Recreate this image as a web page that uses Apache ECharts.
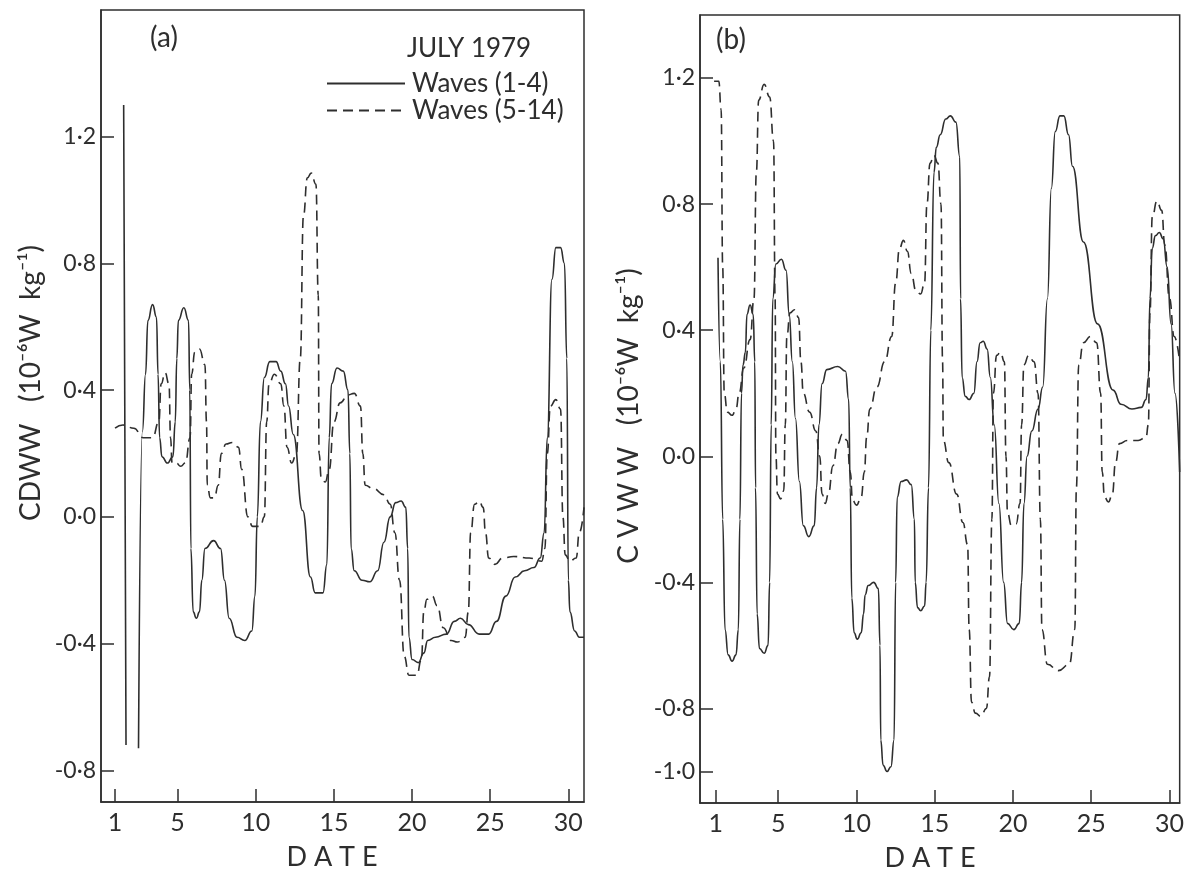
<!DOCTYPE html>
<html>
<head>
<meta charset="utf-8">
<script src="https://cdn.jsdelivr.net/npm/echarts@6/dist/echarts.min.js"></script>
<style>
html,body{margin:0;padding:0;background:#fff;}
#chart{width:1187px;height:871px;}
</style>
</head>
<body>
<div id="chart"></div>
<script>
// ---------- DATA ----------
const xTicks = [1, 5, 10, 15, 20, 25, 30];
const yTicksA = [-0.8, -0.4, 0, 0.4, 0.8, 1.2];
const yLabelsA = ['-0·8', '-0·4', '0·0', '0·4', '0·8', '1·2'];
const yTicksB = [-1.0, -0.8, -0.4, 0, 0.4, 0.8, 1.2];
const yLabelsB = ['-1·0', '-0·8', '-0·4', '0·0', '0·4', '0·8', '1·2'];
const seriesNames = ['Waves (1-4)', 'Waves (5-14)'];

// Panel (a): CDWW, waves 1-4 (solid)  [date, value]
const cdwwWaves1to4 = [
  [1.55,1.30],[1.7,-0.72],[2.1,null],[2.5,-0.73],[2.75,0.27],[2.95,0.45],[3.1,0.62],[3.4,0.67],[3.65,0.63],
  [3.75,0.45],[3.85,0.25],[4.0,0.19],[4.35,0.17],[4.7,0.19],[4.85,0.3],[4.95,0.5],[5.05,0.62],[5.4,0.66],
  [5.7,0.62],[5.78,0.4],[5.85,-0.1],[6.0,-0.3],[6.2,-0.32],[6.4,-0.3],[6.55,-0.2],[6.75,-0.1],[7.3,-0.075],
  [7.75,-0.1],[8.0,-0.2],[8.3,-0.32],[8.8,-0.38],[9.3,-0.39],[9.75,-0.36],[9.95,-0.25],[10.1,0.0],[10.3,0.3],
  [10.55,0.44],[10.9,0.49],[11.3,0.49],[11.6,0.46],[11.9,0.42],[12.1,0.35],[12.4,0.26],[13.0,0.02],[13.5,-0.19],
  [13.8,-0.24],[14.3,-0.24],[14.55,-0.15],[14.7,0.25],[14.85,0.42],[15.2,0.47],[15.6,0.46],[15.9,0.4],[16.02,0.2],
  [16.1,-0.1],[16.3,-0.17],[16.8,-0.2],[17.3,-0.205],[17.8,-0.17],[18.2,-0.08],[18.6,0.0],[18.95,0.045],[19.3,0.05],
  [19.6,0.03],[19.72,-0.1],[19.8,-0.38],[20.0,-0.45],[20.4,-0.46],[20.75,-0.43],[21.0,-0.39],[21.5,-0.38],[22.2,-0.37],
  [22.7,-0.33],[23.1,-0.32],[23.6,-0.34],[24.3,-0.37],[24.9,-0.37],[25.4,-0.33],[26.0,-0.25],[26.6,-0.19],[27.2,-0.17],
  [27.8,-0.16],[28.2,-0.13],[28.45,-0.05],[28.65,0.25],[28.95,0.75],[29.2,0.85],[29.5,0.85],[29.75,0.8],[29.9,0.5],
  [30.0,-0.2],[30.1,-0.3],[30.4,-0.36],[30.7,-0.38],[31.0,-0.38]
];
// Panel (a): CDWW, waves 5-14 (dashed)
const cdwwWaves5to14 = [
  [1.0,0.28],[1.5,0.29],[2.2,0.28],[2.8,0.25],[3.4,0.25],[3.8,0.3],[3.95,0.42],[4.2,0.455],[4.45,0.42],[4.55,0.25],
  [4.65,0.17],[4.9,0.17],[5.2,0.16],[5.5,0.17],[5.8,0.25],[5.9,0.45],[6.1,0.52],[6.4,0.53],[6.75,0.48],[6.85,0.3],
  [6.9,0.1],[7.1,0.06],[7.35,0.06],[7.6,0.1],[7.8,0.2],[8.1,0.23],[8.5,0.235],[8.9,0.22],[9.1,0.15],[9.5,0.0],
  [9.8,-0.03],[10.3,-0.03],[10.55,0.0],[10.7,0.3],[10.85,0.42],[11.2,0.45],[11.6,0.42],[11.8,0.35],[12.0,0.22],
  [12.3,0.17],[12.6,0.2],[12.85,0.5],[13.05,0.95],[13.3,1.07],[13.55,1.085],[13.85,1.05],[14.0,0.7],[14.05,0.2],
  [14.2,0.12],[14.45,0.11],[14.7,0.15],[15.0,0.3],[15.4,0.36],[15.9,0.385],[16.3,0.39],[16.7,0.35],[16.85,0.2],
  [17.0,0.1],[17.5,0.09],[18.2,0.07],[18.6,0.04],[18.9,-0.05],[19.2,-0.2],[19.5,-0.44],[19.8,-0.5],[20.3,-0.5],
  [20.6,-0.45],[20.75,-0.3],[20.95,-0.26],[21.3,-0.25],[21.6,-0.28],[22.0,-0.35],[22.5,-0.39],[22.9,-0.395],
  [23.4,-0.38],[23.6,-0.3],[23.75,-0.05],[24.0,0.04],[24.3,0.05],[24.55,0.03],[24.7,-0.05],[24.9,-0.13],[25.3,-0.15],
  [25.8,-0.13],[26.5,-0.125],[27.5,-0.13],[28.3,-0.14],[28.5,-0.1],[28.65,0.2],[28.85,0.35],[29.2,0.37],[29.5,0.34],
  [29.65,0.0],[29.8,-0.12],[30.1,-0.14],[30.5,-0.13],[30.7,-0.05],[31.0,0.03]
];
// Panel (b): CVWW, waves 1-4 (solid)
const cvwwWaves1to4 = [
  [1.15,0.63],[1.3,0.3],[1.45,-0.2],[1.6,-0.55],[1.8,-0.63],[2.05,-0.65],[2.3,-0.63],[2.45,-0.55],[2.55,-0.2],
  [2.65,0.2],[2.75,0.29],[2.9,0.33],[3.0,0.45],[3.2,0.48],[3.4,0.45],[3.5,0.3],[3.55,-0.1],[3.65,-0.5],[3.8,-0.61],
  [4.1,-0.625],[4.35,-0.6],[4.45,-0.4],[4.55,0.1],[4.65,0.5],[4.85,0.61],[5.2,0.625],[5.5,0.59],[5.7,0.45],[5.9,0.3],
  [6.1,0.12],[6.35,-0.08],[6.6,-0.22],[6.95,-0.255],[7.3,-0.22],[7.45,-0.1],[7.6,0.1],[7.8,0.23],[8.1,0.275],
  [8.8,0.285],[9.3,0.27],[9.5,0.18],[9.6,-0.1],[9.7,-0.45],[9.85,-0.56],[10.05,-0.58],[10.3,-0.56],[10.45,-0.5],
  [10.55,-0.44],[10.75,-0.41],[11.1,-0.40],[11.4,-0.42],[11.5,-0.6],[11.55,-0.9],[11.7,-0.98],[11.95,-1.0],
  [12.2,-0.985],[12.4,-0.9],[12.5,-0.4],[12.6,-0.13],[12.85,-0.08],[13.2,-0.075],[13.5,-0.09],[13.7,-0.2],
  [13.75,-0.4],[13.9,-0.48],[14.1,-0.49],[14.35,-0.475],[14.45,-0.4],[14.6,-0.1],[14.75,0.4],[14.95,0.9],[15.1,0.98],
  [15.35,1.02],[15.7,1.07],[16.0,1.08],[16.35,1.06],[16.6,0.95],[16.65,0.5],[16.75,0.25],[16.95,0.19],[17.2,0.18],
  [17.5,0.2],[17.7,0.3],[17.9,0.36],[18.1,0.365],[18.35,0.34],[18.55,0.25],[18.8,0.1],[19.1,-0.15],[19.4,-0.4],
  [19.65,-0.53],[20.05,-0.55],[20.4,-0.53],[20.55,-0.4],[20.7,-0.15],[20.9,0.0],[21.2,0.08],[21.6,0.15],[21.9,0.22],
  [22.2,0.5],[22.45,0.85],[22.7,1.03],[23.0,1.08],[23.25,1.08],[23.55,1.02],[23.8,0.92],[24.5,0.68],
  [25.4,0.42],[26.4,0.21],[26.9,0.165],[27.6,0.15],[28.2,0.155],[28.5,0.18],[28.65,0.25],[28.75,0.5],
  [28.9,0.66],[29.1,0.70],[29.35,0.71],[29.6,0.69],[29.85,0.6],[30.1,0.42],[30.35,0.2],[30.65,-0.05]
];
// Panel (b): CVWW, waves 5-14 (dashed)
const cvwwWaves5to14 = [
  [0.9,1.19],[1.2,1.19],[1.35,1.1],[1.45,0.6],[1.55,0.2],[1.75,0.14],[2.05,0.13],[2.3,0.15],[2.5,0.2],[2.8,0.28],
  [3.2,0.37],[3.45,0.5],[3.6,0.9],[3.75,1.13],[4.1,1.18],[4.45,1.14],[4.7,1.0],[4.8,0.5],[4.85,0.0],[4.95,-0.12],
  [5.15,-0.135],[5.35,-0.11],[5.45,0.1],[5.55,0.38],[5.75,0.455],[6.05,0.465],[6.3,0.44],[6.45,0.3],[6.6,0.2],
  [7.0,0.14],[7.4,0.08],[7.65,0.0],[7.8,-0.12],[8.0,-0.15],[8.2,-0.12],[8.5,-0.03],[8.8,0.04],[9.1,0.07],[9.4,0.05],
  [9.6,-0.05],[9.75,-0.14],[10.0,-0.155],[10.3,-0.13],[10.5,-0.05],[10.65,0.06],[10.85,0.15],[11.3,0.22],[11.8,0.3],
  [12.25,0.38],[12.5,0.55],[12.75,0.66],[13.0,0.685],[13.25,0.65],[13.5,0.58],[13.8,0.525],[14.1,0.515],[14.35,0.55],
  [14.5,0.8],[14.7,0.93],[14.95,0.955],[15.2,0.93],[15.4,0.8],[15.5,0.3],[15.55,0.05],[15.9,-0.02],[16.4,-0.12],
  [16.8,-0.21],[17.1,-0.28],[17.2,-0.55],[17.35,-0.78],[17.6,-0.815],[17.95,-0.825],[18.3,-0.8],[18.5,-0.7],
  [18.65,-0.2],[18.75,0.2],[18.95,0.32],[19.2,0.33],[19.45,0.3],[19.55,0.0],[19.65,-0.18],[19.9,-0.22],[20.2,-0.215],
  [20.45,-0.15],[20.55,0.1],[20.7,0.29],[21.0,0.32],[21.35,0.3],[21.6,0.2],[21.75,-0.2],[21.85,-0.55],[22.2,-0.66],
  [22.9,-0.68],[23.6,-0.66],[23.95,-0.55],[24.05,-0.1],[24.2,0.29],[24.5,0.36],[24.95,0.38],[25.35,0.36],[25.6,0.2],
  [25.7,-0.05],[25.85,-0.13],[26.1,-0.145],[26.35,-0.12],[26.55,-0.02],[26.8,0.04],[27.3,0.05],[28.0,0.05],[28.5,0.06],
  [28.65,0.1],[28.75,0.45],[28.9,0.76],[29.2,0.81],[29.5,0.78],[29.7,0.67],[30.0,0.5],[30.3,0.38],[30.65,0.3]
];

// ---------- CHART ----------
const FONT = 'Lato, "DejaVu Sans", sans-serif';
const INK = '#2e2e2e';
const chart = echarts.init(document.getElementById('chart'), null, {renderer: 'canvas'});

function prep(d) { return d.map(p => [p[0], p[1] === null ? '-' : p[1]]); }
function lookup(ticks, labels) {
  return function (v) {
    for (let i = 0; i < ticks.length; i++) if (Math.abs(ticks[i] - v) < 1e-6) return labels[i];
    return '';
  };
}
function xAxisCfg(idx, min, max) {
  return {
    type: 'value', gridIndex: idx, min: min, max: max,
    axisLine: {show: true, onZero: false, lineStyle: {color: INK, width: 1.5}},
    axisTick: {show: true, inside: true, length: 13, customValues: xTicks, lineStyle: {color: INK, width: 1.5}},
    axisLabel: {show: true, customValues: xTicks, margin: 8, fontSize: 25, fontFamily: FONT, color: INK},
    splitLine: {show: false}
  };
}
function yAxisCfg(idx, min, max, ticks, labels) {
  return {
    type: 'value', gridIndex: idx, min: min, max: max,
    axisLine: {show: true, onZero: false, lineStyle: {color: INK, width: 1.5}},
    axisTick: {show: true, inside: true, length: 13, customValues: ticks, lineStyle: {color: INK, width: 1.5}},
    axisLabel: {show: true, customValues: ticks, formatter: lookup(ticks, labels), margin: 5,
      fontSize: 23, fontFamily: FONT, color: INK},
    splitLine: {show: false}
  };
}
function lineSeries(name, data, xi, dashed) {
  return {
    type: 'line', name: name, xAxisIndex: xi, yAxisIndex: xi,
    data: prep(data), symbol: 'none', showSymbol: false, smooth: 0.5, smoothMonotone: 'x', connectNulls: false,
    lineStyle: {color: INK, width: 1.6, type: dashed ? [10, 6] : 'solid'},
    itemStyle: {color: INK},
    silent: true, animation: false
  };
}
const txt = (text, x, y, size, extra) => Object.assign({
  type: 'text', x: x, y: y,
  style: {text: text, fontSize: size, fontFamily: FONT, fill: INK, align: 'center', verticalAlign: 'middle'}
}, extra || {});

const option = {
  backgroundColor: '#ffffff',
  animation: false,
  grid: [
    {left: 101, top: 10, width: 483, height: 792, show: true, borderColor: INK, borderWidth: 1.5},
    {left: 700, top: 15, width: 481, height: 788, show: true, borderColor: INK, borderWidth: 1.5}
  ],
  xAxis: [xAxisCfg(0, 0.1, 31), xAxisCfg(1, 0, 30.65)],
  yAxis: [yAxisCfg(0, -0.9, 1.6, yTicksA, yLabelsA), yAxisCfg(1, -1.1, 1.4, yTicksB, yLabelsB)],
  legend: {
    data: seriesNames, orient: 'vertical', left: 321, top: 65, itemWidth: 78, itemHeight: 14, itemGap: 0,
    itemStyle: {opacity: 0, borderWidth: 0},
    textStyle: {fontSize: 26, lineHeight: 27, fontFamily: FONT, color: INK, padding: [0, 0, 0, 2]},
    selectedMode: false
  },
  series: [
    lineSeries(seriesNames[0], cdwwWaves1to4, 0, false),
    lineSeries(seriesNames[1], cdwwWaves5to14, 0, true),
    lineSeries(seriesNames[0], cvwwWaves1to4, 1, false),
    lineSeries(seriesNames[1], cvwwWaves5to14, 1, true)
  ],
  graphic: [
    txt('(a)', 164, 38, 28),
    txt('(b)', 731, 40, 28),
    txt('JULY 1979', 407, 49, 26),
    txt('CDWW   (10⁻⁶W  kg⁻¹)', 31, 383, 28, {rotation: Math.PI / 2}),
    txt('C V W W   (10⁻⁶W  kg⁻¹)', 629, 416, 28, {rotation: Math.PI / 2}),
    txt('D A T E', 332, 857, 27),
    txt('D A T E', 930, 858, 27)
  ]
};
option.graphic[2].style.align = 'left';
chart.setOption(option);
</script>
</body>
</html>
